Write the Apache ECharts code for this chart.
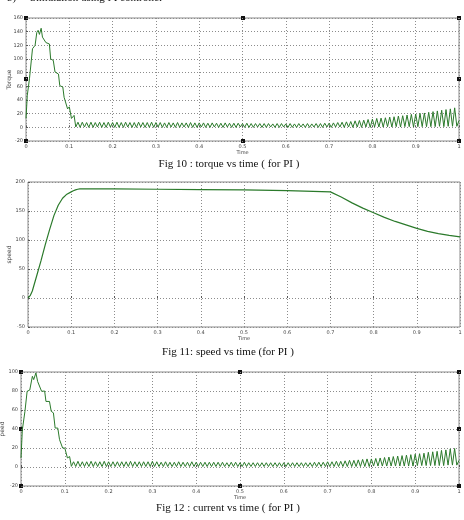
<!DOCTYPE html>
<html style="height:100%">
<head>
    <meta charset="utf-8">
    <title>PI controller simulation</title>
    <script src="https://cdn.jsdelivr.net/npm/echarts@6/dist/echarts.min.js"></script>
</head>
<body style="height:100%;margin:0;background:#fff">
    <div id="main" style="width:464px;height:520px;"></div>
    <script type="text/javascript">
        // time axis ticks shared by all three plots
        var timeTicks = [0, 0.1, 0.2, 0.3, 0.4, 0.5, 0.6, 0.7, 0.8, 0.9, 1];

        // ---- Fig 10 : torque ----
        var torqueStartT = [0, 0.003, 0.008, 0.015, 0.021, 0.025, 0.028, 0.031, 0.035, 0.038, 0.042, 0.046, 0.054,
            0.057, 0.063, 0.067, 0.075, 0.078, 0.085, 0.088, 0.092, 0.096, 0.1, 0.105, 0.111, 0.115];
        var torqueStartV = [13, 47, 71, 115, 120, 139, 142, 136, 145, 132, 134, 124, 122,
            100, 98, 81, 78, 61, 59, 44, 42, 27, 30, 13, 17.5, 0.5];
        // ripple sampled every 5 ms from 0.12 s
        var torqueRipple = [
            7.5, 0, 7.5, 0.5, 7, 0, 7.5, 0, 7, 0.5, 7.5, 0, 7, 0, 7.5, 0.5, 7, 0, 7.5, 0,
            7, 0, 7.5, 0.5, 7, 0, 7, 0, 7.5, 0.5, 7, 0, 7, 0, 7.5, 0, 7, 0.5, 7, 0,
            6.5, 0, 7, 0.5, 6.5, 0, 7, 0, 6.5, 0.5, 6.5, 0, 7, 0, 6.5, 0, 6.5, 0.5, 6.5, 0,
            6, 0, 6.5, 0.5, 6, 0, 6, 0, 6.5, 0.5, 6, 0, 6, 0, 6, 0.5, 5.5, 0, 6, 0,
            5.5, 0, 5.5, 0.5, 5.5, 0, 5.5, 0, 5.5, 0.5, 5, 0, 5.5, 0, 5.5, 0.5, 5, 0, 5.5, 0,
            5, 0, 5.5, 0.5, 5, 0, 5.5, 0, 5, 0.5, 5.5, 0, 5.5, 0, 6, 0.5, 6, 0, 6.5, 0.5,
            7, 0.5, 7.5, 0, 8, 0.5, 8.5, 0, 9.5, 0.5, 10, 0, 10.5, 0.5, 11.5, 0, 12, 0.5, 13, 0.5,
            13.5, 0.5, 14, 1, 15, 0.5, 15.5, 1, 16.5, 0.5, 17, 1, 18, 1, 19, 0.5, 19.5, 1, 20.5, 1,
            21, 1, 22, 1, 23, 1, 24, 1.5, 25, 1, 26, 1.5, 27, 1.5, 28.5, 1.5, 10
        ];

        // ---- Fig 11 : speed ----
        var speedT = [0, 0.005, 0.01, 0.02, 0.03, 0.04, 0.05, 0.06, 0.07, 0.08, 0.09, 0.1, 0.105, 0.11, 0.115, 0.12, 0.15, 0.2,
            0.3, 0.4, 0.5, 0.6, 0.7, 0.725, 0.75, 0.775, 0.8, 0.825, 0.85, 0.875, 0.9, 0.925, 0.95, 0.975, 1];
        var speedV = [0, 4, 12, 38, 64, 92, 118, 142, 160, 172, 179, 183, 185, 186.5, 187.5, 188, 188, 188,
            187.5, 187, 186.5, 185, 183, 174, 164, 155, 147, 139, 132, 126, 120, 115, 111, 108, 105.5];

        // ---- Fig 12 : current ----
        var currentStartT = [0, 0.003, 0.009, 0.014, 0.02, 0.026, 0.029, 0.034, 0.038, 0.042, 0.047, 0.054, 0.057,
            0.065, 0.069, 0.074, 0.078, 0.084, 0.088, 0.092, 0.095, 0.1, 0.106, 0.111, 0.115];
        var currentStartV = [9.5, 39, 58.6, 79.7, 81, 95.5, 92, 99, 90, 92, 79.7, 80, 69,
            69, 58.6, 57, 41, 41, 28.8, 30.5, 20, 20, 9.5, 11, 0.7];
        var currentRipple = [
            5.5, 0.5, 6, 0.5, 5.5, 0.5, 5.5, 0.5, 6, 0.5, 5.5, 0.5, 5.5, 0.5, 6, 0.5, 5.5, 0.5, 5.5, 0.5,
            5.5, 0.5, 5.5, 0.5, 5.5, 0.5, 6, 0.5, 5.5, 0.5, 5.5, 0.5, 5.5, 0.5, 5.5, 0.5, 6, 0.5, 5.5, 0.5,
            5, 0.5, 5.5, 0.5, 5, 0.5, 5, 0.5, 5.5, 0.5, 5, 0.5, 5, 0.5, 5.5, 0.5, 5, 0.5, 5, 0.5,
            5, 0.5, 5, 0.5, 5, 0.5, 5, 0.5, 5, 0.5, 4.5, 0.5, 5, 0.5, 5, 0.5, 4.5, 0.5, 5, 0.5,
            4.5, 0.5, 4.5, 0.5, 4.5, 0.5, 4.5, 0.5, 4.5, 0.5, 4.5, 0.5, 4.5, 0.5, 4.5, 0.5, 4.5, 0.5, 4.5, 0.5,
            4.5, 0.5, 4.5, 0.5, 4.5, 0.5, 4.5, 0.5, 4.5, 0.5, 5, 0.5, 5, 0.5, 5, 0.5, 5.5, 0.5, 5.5, 0.5,
            6, 0.5, 6, 0.5, 6.5, 0.5, 7, 0.5, 7, 0.5, 7.5, 0.5, 8, 0.5, 8.5, 0.5, 8.5, 1, 9, 1,
            9.5, 1, 10, 1, 10.5, 1, 11, 1, 11.5, 1, 12, 1, 12.5, 1, 13, 1, 13.5, 1.5, 14, 1.5,
            14.5, 1.5, 15.5, 1.5, 16, 1.5, 16.5, 1.5, 17.5, 1.5, 18, 2, 19, 2, 19.5, 2, 7
        ];
        var rippleStart = 0.12, rippleStep = 0.005;

        function buildLine(ts, vs, ripple) {
            var out = [];
            for (var i = 0; i < ts.length; i++) out.push([ts[i], vs[i]]);
            if (ripple) {
                for (var j = 0; j < ripple.length; j++) {
                    out.push([+(rippleStart + j * rippleStep).toFixed(3), ripple[j]]);
                }
            }
            return out;
        }

        var myChart = echarts.init(document.getElementById('main'));

        var gridBorder = '#8a8a8a';
        var lineGreen = '#2b7a2b';
        var tickFont = { color: '#444', fontSize: 5, fontFamily: 'DejaVu Sans' };

        function xAx(idx, labelGap) {
            return {
                gridIndex: idx,
                type: 'value',
                min: 0, max: 1, interval: 0.1,
                name: 'Time',
                nameLocation: 'middle',
                nameGap: labelGap,
                nameTextStyle: { color: '#444', fontSize: 5, fontFamily: 'DejaVu Sans' },
                axisLine: { show: false },
                axisTick: { show: true, inside: true, length: 2, lineStyle: { color: '#555' } },
                axisLabel: Object.assign({ margin: 3 }, tickFont),
                splitLine: { show: true, lineStyle: { color: '#8c8c8c', type: [1, 2], width: 1 } }
            };
        }

        function yAx(idx, min, max, step, name, gap) {
            return {
                gridIndex: idx,
                type: 'value',
                min: min, max: max, interval: step,
                name: name,
                nameLocation: 'middle',
                nameRotate: 90,
                nameGap: gap,
                nameMoveOverlap: false,
                nameTextStyle: { color: '#444', fontSize: 6, fontFamily: 'DejaVu Sans' },
                axisLine: { show: false },
                axisTick: { show: true, inside: true, length: 2, lineStyle: { color: '#555' } },
                axisLabel: Object.assign({ margin: 3 }, tickFont),
                splitLine: { show: true, lineStyle: { color: '#8c8c8c', type: [1, 2], width: 1 } }
            };
        }

        var capStyle = { fill: '#111', fontSize: 11, fontFamily: 'Liberation Serif', textAlign: 'center' };

        function handle(x, y) {
            return { type: 'rect', shape: { x: x - 2, y: y - 2, width: 4, height: 4 }, style: { fill: '#111' } };
        }

        option = {
            backgroundColor: '#fff',
            animation: false,
            grid: [
                { left: 26, right: 5, top: 18, height: 123, outerBoundsMode: 'none', containLabel: false, show: true, borderColor: gridBorder, borderWidth: 1 },
                { left: 28, right: 4, top: 182, height: 145, outerBoundsMode: 'none', containLabel: false, show: true, borderColor: gridBorder, borderWidth: 1 },
                { left: 21, right: 5, top: 372, height: 114, outerBoundsMode: 'none', containLabel: false, show: true, borderColor: gridBorder, borderWidth: 1 }
            ],
            xAxis: [xAx(0, 8), xAx(1, 9), xAx(2, 8)],
            yAxis: [
                yAx(0, -20, 160, 20, 'Torque', 14),
                yAx(1, -50, 200, 50, 'speed', 16),
                yAx(2, -20, 100, 20, 'peed', 16)
            ],
            series: [{
                type: 'line', xAxisIndex: 0, yAxisIndex: 0,
                showSymbol: false, silent: true,
                lineStyle: { color: lineGreen, width: 1 },
                data: buildLine(torqueStartT, torqueStartV, torqueRipple)
            }, {
                type: 'line', xAxisIndex: 1, yAxisIndex: 1,
                showSymbol: false, silent: true,
                lineStyle: { color: lineGreen, width: 1.2 },
                data: buildLine(speedT, speedV)
            }, {
                type: 'line', xAxisIndex: 2, yAxisIndex: 2,
                showSymbol: false, silent: true,
                lineStyle: { color: lineGreen, width: 1 },
                data: buildLine(currentStartT, currentStartV, currentRipple)
            }],
            graphic: [
                { type: 'text', left: 7, top: -7, style: { text: 'b)     Simulation using PI controller', fill: '#111', fontSize: 11, fontFamily: 'Liberation Serif' } },
                { type: 'text', x: 229, y: 159, style: Object.assign({ text: 'Fig 10 : torque vs time ( for PI )' }, capStyle) },
                { type: 'text', x: 228, y: 347, style: Object.assign({ text: 'Fig 11: speed vs time (for PI )' }, capStyle) },
                { type: 'text', x: 228, y: 503, style: Object.assign({ text: 'Fig 12 : current vs time ( for PI )' }, capStyle) },
                handle(26, 18), handle(26, 79), handle(26, 141),
                handle(243, 18), handle(459, 18), handle(459, 79), handle(459, 141), handle(243, 141),
                handle(21, 372), handle(21, 429), handle(21, 486),
                handle(240, 372), handle(459, 372), handle(459, 429), handle(459, 486), handle(240, 486)
            ]
        };

        myChart.setOption(option);
    </script>
</body>
</html>
